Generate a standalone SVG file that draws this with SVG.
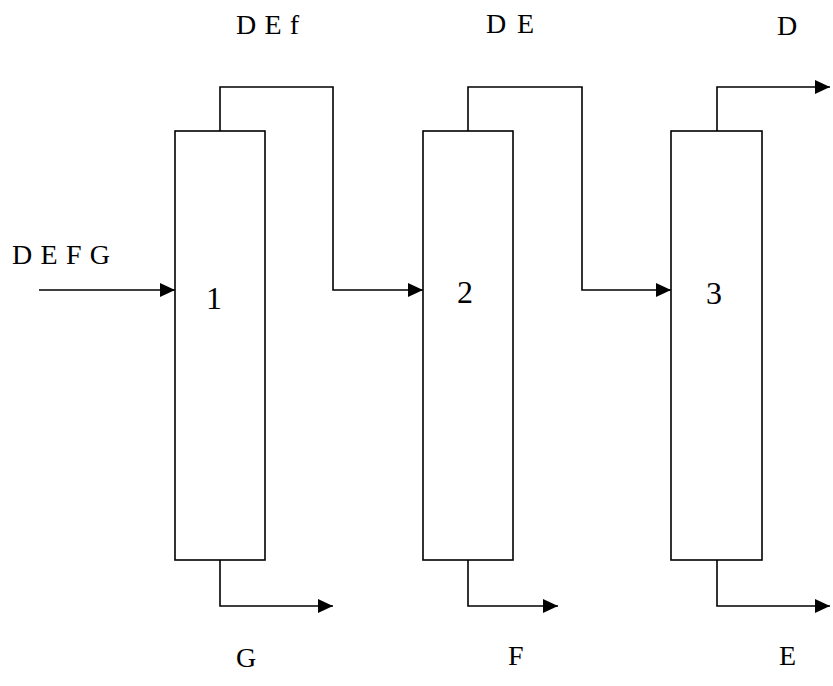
<svg xmlns="http://www.w3.org/2000/svg" width="833" height="686" viewBox="0 0 833 686">
<style>
.box{fill:#fff;stroke:#000;stroke-width:1.6}
.pipe{fill:none;stroke:#000;stroke-width:1.6;marker-end:url(#ah)}
text{font-family:"Liberation Serif","Times New Roman",serif;fill:#000}
.lbl{font-size:28px}
.num{font-size:32px}
</style>
<defs>
<marker id="ah" markerUnits="userSpaceOnUse" markerWidth="16" markerHeight="15" refX="15" refY="7" orient="auto">
<path d="M0,0 L15,7 L0,14 Z" fill="#000"/>
</marker>
</defs>
<g id="column1">
<rect class="box" x="175" y="131" width="90" height="429"/>
<text class="num" x="206" y="309">1</text>
</g>
<g id="column2">
<rect class="box" x="423" y="131" width="90" height="429"/>
<text class="num" x="457" y="303">2</text>
</g>
<g id="column3">
<rect class="box" x="671" y="131" width="91" height="429"/>
<text class="num" x="706" y="304">3</text>
</g>
<g id="connectors">
<path class="pipe" d="M39,290 H175"/>
<path class="pipe" d="M220,131 V87 H333 V290 H423"/>
<path class="pipe" d="M468,131 V87 H582 V290 H671"/>
<path class="pipe" d="M717,131 V87 H830"/>
<path class="pipe" d="M220,560 V606 H333"/>
<path class="pipe" d="M468,560 V606 H558"/>
<path class="pipe" d="M717,560 V606 H830"/>
</g>
<g id="labels">
<text class="lbl" x="236" y="34" textLength="63" lengthAdjust="spacing">D E f</text>
<text class="lbl" x="486" y="33" textLength="48" lengthAdjust="spacing">D E</text>
<text class="lbl" x="777" y="35">D</text>
<text class="lbl" x="12" y="264" textLength="98" lengthAdjust="spacing">D E F G</text>
<text class="lbl" x="236" y="667">G</text>
<text class="lbl" x="508" y="665">F</text>
<text class="lbl" x="779" y="665">E</text>
</g>
</svg>
